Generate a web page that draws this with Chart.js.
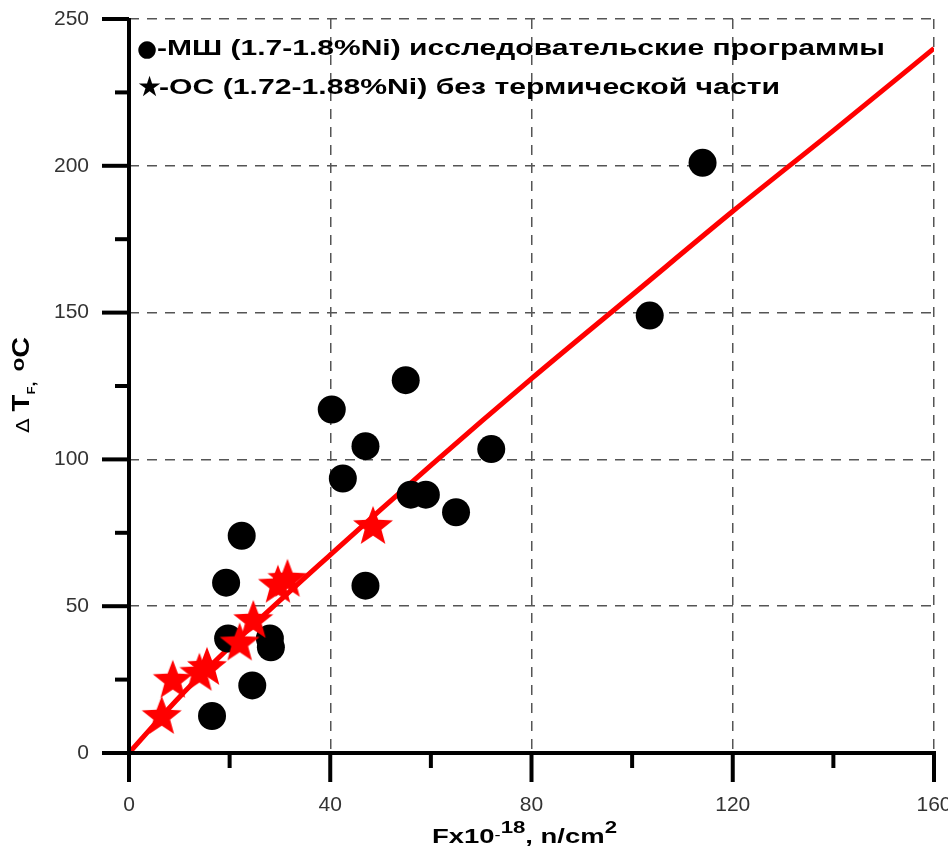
<!DOCTYPE html>
<html>
<head>
<meta charset="utf-8">
<script src="https://cdn.jsdelivr.net/npm/chart.js@4.4.0/dist/chart.umd.min.js"></script>
<style>
  html, body { margin: 0; padding: 0; background: #fff; }
</style>
</head>
<body>
<canvas id="myChart" width="948" height="854"></canvas>
<script>
// black circles - МШ (1.7-1.8%Ni) research programs
const msX = [114, 103.5, 55, 40.3, 47, 42.5, 72, 56, 59, 65, 47, 22.4, 19.3, 19.7, 28, 28.2, 24.5, 16.5];
const msY = [201, 149, 127, 117, 104.5, 93.5, 103.5, 88, 88, 82, 57, 74, 58, 39, 39, 36, 23, 12.6];

// red stars - ОС (1.72-1.88%Ni)
const osX = [6.5, 8.7, 14, 15.5, 22, 24.7, 29.6, 31.5, 48.5];
const osY = [12.3, 24.6, 27, 29, 37.3, 45, 57, 59, 77];

// red trend curve
const fitX = [0, 10, 20, 40, 60, 80, 100, 120, 140, 160];
const fitY = [0, 19, 36, 67.5, 98, 127.5, 156, 184.5, 212, 240];

// axis ticks
const xMajor = [0, 40, 80, 120, 160];
const xMinor = [20, 60, 100, 140];
const yMajor = [0, 50, 100, 150, 200, 250];
const yMinor = [25, 75, 125, 175, 225];

const legendMarks = ['●', '★'];
const legendLines = [
    '-МШ (1.7-1.8%Ni) исследовательские программы',
    '-ОС (1.72-1.88%Ni) без термической части'
];

const SANS = '"Liberation Sans", Arial, sans-serif';

//to build a filled 5 point star for the point style
function makeStar(r, color) {
    const c = document.createElement('canvas');
    c.width = c.height = r * 2 + 2;
    const g = c.getContext('2d');
    g.translate(r + 1, r + 1);
    g.beginPath();
    for (let i = 0; i < 10; i++) {
        const rr = i % 2 ? r * 0.42 : r;
        const a = -Math.PI / 2 + i * Math.PI / 5;
        g.lineTo(rr * Math.cos(a), rr * Math.sin(a));
    }
    g.closePath();
    g.fillStyle = color;
    g.fill();
    return c;
}

const toPoints = (xs, ys) => xs.map((x, i) => ({ x: x, y: ys[i] }));

function line(ctx, x1, y1, x2, y2) {
    ctx.beginPath();
    ctx.moveTo(x1, y1);
    ctx.lineTo(x2, y2);
    ctx.stroke();
}

// draw a run of text pieces, some raised or lowered, stretched to the width seen in the picture
// (the old GDI lettering there is a lot wider than Liberation Sans)
function drawPieces(ctx, x, y, width, pieces) {
    let total = 0;
    pieces.forEach(p => { ctx.font = p.font; total += ctx.measureText(p.t).width; });
    ctx.save();
    ctx.translate(x, y);
    ctx.scale(width / total, 1);
    let cx = 0;
    pieces.forEach(p => {
        ctx.font = p.font;
        ctx.fillText(p.t, cx, p.dy || 0);
        cx += ctx.measureText(p.t).width;
    });
    ctx.restore();
}

const axesPlugin = {
    id: 'axesPlugin',
    afterDraw(chart) {
        const ctx = chart.ctx;
        const xs = chart.scales.x, ys = chart.scales.y;
        const x0 = xs.getPixelForValue(0), y0 = ys.getPixelForValue(0);
        ctx.save();
        ctx.strokeStyle = '#000';
        ctx.lineWidth = 4;
        line(ctx, x0, ys.getPixelForValue(250) - 1, x0, y0);
        line(ctx, x0, y0, xs.getPixelForValue(160) + 2, y0);
        xMajor.forEach(v => line(ctx, xs.getPixelForValue(v), y0, xs.getPixelForValue(v), y0 + 29));
        xMinor.forEach(v => line(ctx, xs.getPixelForValue(v), y0, xs.getPixelForValue(v), y0 + 15));
        yMajor.forEach(v => line(ctx, x0 - 27, ys.getPixelForValue(v), x0, ys.getPixelForValue(v)));
        yMinor.forEach(v => line(ctx, x0 - 14, ys.getPixelForValue(v), x0, ys.getPixelForValue(v)));

        // legend text inside the plot
        ctx.fillStyle = '#000';
        ctx.textBaseline = 'alphabetic';
        ctx.textAlign = 'left';
        const lf = 'bold 22px ' + SANS;
        ctx.font = '23px "DejaVu Sans", sans-serif';
        ctx.fillText(legendMarks[0], 137, 56);
        ctx.font = '28px "DejaVu Sans", sans-serif';
        ctx.fillText(legendMarks[1], 137, 96);
        drawPieces(ctx, 157, 55, 728, [{ t: legendLines[0], font: lf }]);
        drawPieces(ctx, 159, 94, 621, [{ t: legendLines[1], font: lf }]);

        // x axis title
        const b = 'bold 21px ' + SANS;
        const s = 'bold 17px ' + SANS;
        drawPieces(ctx, 432, 843, 185, [
            { t: 'Fx10', font: b },
            { t: '-', font: '14px ' + SANS, dy: -3 },
            { t: '18', font: s, dy: -10 },
            { t: ', n/cm', font: b },
            { t: '2', font: s, dy: -10 }
        ]);

        // y axis title, rotated
        ctx.translate(29, 433);
        ctx.rotate(-Math.PI / 2);
        drawPieces(ctx, 0, 0, 96, [
            { t: 'Δ ', font: '18px "DejaVu Sans", sans-serif' },
            { t: 'T', font: 'bold 23px ' + SANS },
            { t: 'F', font: 'bold 11px ' + SANS, dy: 6 },
            { t: ',  ', font: 'bold 15px ' + SANS, dy: 6 },
            { t: 'o', font: 'bold 19px ' + SANS, dy: -5 },
            { t: 'C', font: 'bold 24px ' + SANS }
        ]);
        ctx.restore();
    }
};

const gridColor = c => (c.tick && c.tick.value % (c.scale.axis === 'x' ? 40 : 50) === 0) ? '#555' : 'rgba(0,0,0,0)';

const chart = new Chart(document.getElementById('myChart'), {
    type: 'scatter',
    data: {
        datasets: [
            {
                label: 'ОС',
                data: toPoints(osX, osY),
                pointStyle: makeStar(21, '#ff0000'),
                order: 0
            },
            {
                label: 'МШ',
                data: toPoints(msX, msY),
                pointStyle: 'circle',
                pointRadius: 14,
                backgroundColor: '#000',
                borderColor: '#000',
                borderWidth: 0,
                order: 1
            },
            {
                type: 'line',
                label: 'fit',
                data: toPoints(fitX, fitY),
                borderColor: '#ff0000',
                borderWidth: 5,
                pointRadius: 0,
                cubicInterpolationMode: 'monotone',
                fill: false,
                order: 2
            }
        ]
    },
    options: {
        responsive: false,
        animation: false,
        layout: { padding: { top: 19, right: 13, left: 0, bottom: 0 } },
        plugins: {
            legend: { display: false },
            tooltip: { enabled: false }
        },
        scales: {
            x: {
                type: 'linear',
                min: 0,
                max: 160,
                afterFit: s => { s.height = 101; s.paddingLeft = 0; s.paddingRight = 0; },
                ticks: {
                    stepSize: 20,
                    padding: 40,
                    maxRotation: 0,
                    autoSkip: false,
                    color: '#333',
                    font: { family: SANS, size: 21 },
                    callback: v => v % 40 === 0 ? v : ''
                },
                grid: { color: gridColor, lineWidth: 1.5, drawTicks: false },
                border: { display: false, dash: [10, 8] }
            },
            y: {
                type: 'linear',
                min: 0,
                max: 250,
                afterFit: s => { s.width = 129; s.paddingTop = 0; s.paddingBottom = 0; },
                ticks: {
                    stepSize: 25,
                    padding: 40,
                    autoSkip: false,
                    color: '#333',
                    font: { family: SANS, size: 21 },
                    callback: v => v % 50 === 0 ? v : ''
                },
                grid: { color: gridColor, lineWidth: 1.5, drawTicks: false },
                border: { display: false, dash: [10, 8] }
            }
        }
    },
    plugins: [axesPlugin]
});
</script>
</body>
</html>
